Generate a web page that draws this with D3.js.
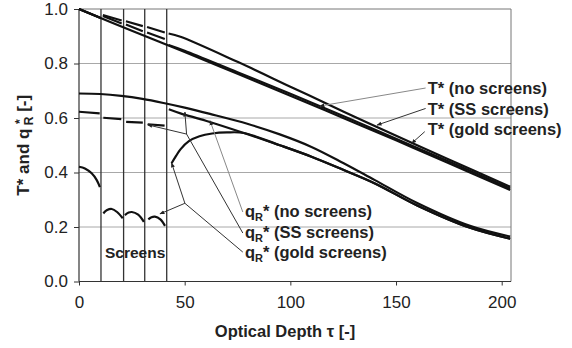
<!DOCTYPE html>
<html>
<head>
<meta charset="utf-8">
<script src="https://cdn.jsdelivr.net/npm/d3@7"></script>
<style>
    body { margin: 0; background: #fff; }
    svg { font-family: "Liberation Sans", Arial, sans-serif; }
</style>
</head>
<body>
<div id="chart"></div>
<script>
// values, [tau, value]; null marks a break in a curve
const screenPositions = [10.4, 21.1, 31.1, 41.5];
const xTickValues = [0, 50, 100, 150, 200];
const yTickValues = [0, 0.2, 0.4, 0.6, 0.8, 1.0];

const tNoScreens = [[0, 1.0], [25, 0.92], [50, 0.842], [75, 0.762], [100, 0.682], [125, 0.6], [150, 0.518], [175, 0.434], [204, 0.336]];
const tSSScreens = [[0, 1.0], [10, 0.968], null,
    [11.3, 0.974], [20.2, 0.947], null, [22.2, 0.943], [30.2, 0.918], null, [32.2, 0.914], [40.6, 0.89], null,
    [42.4, 0.868], [50, 0.847], [75, 0.768], [100, 0.689], [125, 0.607], [150, 0.524], [175, 0.44], [204, 0.341]];
const tGoldScreens = [[0, 1.0], [10, 0.968], null,
    [11.3, 0.978], [20.2, 0.958], null, [22.2, 0.955], [30.2, 0.937], null, [32.2, 0.934], [40.6, 0.914], null,
    [42.4, 0.91], [48, 0.898], [75, 0.806], [100, 0.715], [125, 0.624], [142, 0.563], [175, 0.448], [204, 0.348]];

const qNoScreens = [[0, 0.69], [10, 0.688], [20, 0.681], [30, 0.67], [40, 0.655], [50, 0.638], [62, 0.615], [80, 0.578],
    [95, 0.54], [110, 0.494], [125, 0.435], [140, 0.372], [160, 0.288], [185, 0.204], [204, 0.165]];
const qSSScreens = [[0, 0.623], [9.8, 0.617], null,
    [11.5, 0.601], [20, 0.596], null, [22.3, 0.586], [30.2, 0.583], null, [32.5, 0.577], [40.5, 0.572], null,
    [42.5, 0.632], [48, 0.617], [60, 0.59], [78, 0.545], [95, 0.5], [110, 0.458], [125, 0.41], [140, 0.36],
    [160, 0.279], [185, 0.197], [204, 0.157]];
const qGoldScreens = [[0, 0.421], [2.8, 0.415], [6, 0.397], [8.4, 0.372], [9.9, 0.346], null,
    [11.5, 0.25], [13.3, 0.262], [15.5, 0.266], [18, 0.255], [20.7, 0.232], null,
    [21.7, 0.244], [23.5, 0.253], [25, 0.255], [28, 0.245], [30.7, 0.219], null,
    [32.8, 0.228], [34.3, 0.236], [35.9, 0.238], [38.5, 0.228], [40.7, 0.204], null,
    [43.8, 0.434], [46, 0.462], [48, 0.485], [52, 0.515], [57, 0.533], [63, 0.543], [70, 0.547], [78, 0.545],
    [95, 0.5], [110, 0.458], [125, 0.41], [140, 0.36], [160, 0.279], [185, 0.197], [204, 0.157]];

const tLabels = ["T* (no screens)", "T* (SS screens)", "T* (gold screens)"];
const tLabelValues = [0.688, 0.611, 0.538];
const qLabels = [" (no screens)", " (SS screens)", " (gold screens)"];
const qLabelValues = [0.236, 0.158, 0.085];

// leader lines, label end first, arrow tip last
const pointers = [
    {pts: [[164, 0.71], [114, 0.644]], grey: true},
    {pts: [[164, 0.635], [141, 0.574]]},
    {pts: [[163.6, 0.55], [157.4, 0.507]]},
    {pts: [[77.5, 0.255], [62, 0.59]], grey: true},
    {pts: [[77.5, 0.178], [50.9, 0.541], [50.1, 0.622]]},
    {pts: [[50.9, 0.541], [32.5, 0.575]]},
    {pts: [[77.5, 0.108], [50.1, 0.287], [43.8, 0.435]]},
    {pts: [[50.1, 0.287], [38.3, 0.248]]}
];

const width = 572, height = 348;
const margin = {top: 9, right: 61, bottom: 66.5, left: 79};

const svg = d3.select("#chart").append("svg")
    .attr("width", width)
    .attr("height", height);

const xScale = d3.scaleLinear().domain([0, 204.4]).range([margin.left, width - margin.right]);
const yScale = d3.scaleLinear().domain([0, 1]).range([height - margin.bottom, margin.top]);

svg.append("defs").append("marker")
    .attr("id", "tip")
    .attr("viewBox", "0 0 10 10")
    .attr("refX", 9).attr("refY", 5)
    .attr("markerWidth", 5).attr("markerHeight", 5)
    .attr("markerUnits", "userSpaceOnUse")
    .attr("orient", "auto")
    .append("path")
    .attr("d", "M0,1L10,5L0,9z")
    .attr("fill", "#222");

// horizontal grid
svg.append("g")
    .selectAll("line")
    .data(yTickValues.filter(d => d > 0))
    .enter()
    .append("line")
    .attr("x1", margin.left).attr("x2", width - margin.right)
    .attr("y1", d => yScale(d)).attr("y2", d => yScale(d))
    .attr("stroke", d => d === 1 ? "#777" : "#a8a8a8")
    .attr("stroke-width", 1);

// right border
svg.append("line")
    .attr("x1", width - margin.right).attr("x2", width - margin.right)
    .attr("y1", margin.top).attr("y2", height - margin.bottom)
    .attr("stroke", "#777");

// screens
svg.append("g")
    .selectAll("line")
    .data(screenPositions)
    .enter()
    .append("line")
    .attr("x1", d => xScale(d)).attr("x2", d => xScale(d))
    .attr("y1", yScale(1)).attr("y2", yScale(0))
    .attr("stroke", "#333")
    .attr("stroke-width", 1.3);

const xAxis = d3.axisBottom(xScale).tickValues(xTickValues).tickSize(4).tickPadding(10).tickFormat(d3.format("d"));
const gXAxis = svg.append("g")
    .attr("transform", `translate(0,${yScale(0)})`)
    .call(xAxis);

const yAxis = d3.axisLeft(yScale).tickValues(yTickValues).tickSize(5).tickPadding(6).tickFormat(d3.format(".1f"));
const gYAxis = svg.append("g")
    .attr("transform", `translate(${margin.left},0)`)
    .call(yAxis);

[gXAxis, gYAxis].forEach(g => {
    g.selectAll(".domain").attr("stroke", "#333").attr("stroke-width", 1.2);
    g.selectAll(".tick line").attr("stroke", "#333");
    g.selectAll("text").attr("font-size", 17).attr("fill", "#222")
        .attr("font-family", "Liberation Sans, Arial, sans-serif");
});
gXAxis.select(".domain").attr("d", `M${margin.left},0H${width - margin.right}`);
gYAxis.select(".domain").attr("d", `M0,${yScale(0)}V${yScale(1)}`);

// curves
const line = d3.line()
    .defined(d => d !== null)
    .x(d => xScale(d[0]))
    .y(d => yScale(d[1]))
    .curve(d3.curveCatmullRom.alpha(0.5));

const curves = [qNoScreens, qSSScreens, qGoldScreens, tNoScreens, tSSScreens, tGoldScreens];
svg.append("g")
    .selectAll("path")
    .data(curves)
    .enter()
    .append("path")
    .attr("d", d => line(d))
    .attr("fill", "none")
    .attr("stroke", "#111")
    .attr("stroke-width", 2.2);

// leader lines
const leader = d3.line().x(d => xScale(d[0])).y(d => yScale(d[1]));
svg.append("g")
    .selectAll("path")
    .data(pointers)
    .enter()
    .append("path")
    .attr("d", d => leader(d.pts))
    .attr("fill", "none")
    .attr("stroke", d => d.grey ? "#888" : "#333")
    .attr("stroke-width", 1)
    .attr("marker-end", "url(#tip)");

// labels
svg.append("g")
    .selectAll("text")
    .data(tLabels)
    .enter()
    .append("text")
    .attr("x", xScale(165))
    .attr("y", (d, i) => yScale(tLabelValues[i]))
    .attr("font-size", 16.5)
    .attr("font-weight", "bold")
    .attr("fill", "#222")
    .text(d => d);

const qText = svg.append("g")
    .selectAll("text")
    .data(qLabels)
    .enter()
    .append("text")
    .attr("x", xScale(78.5))
    .attr("y", (d, i) => yScale(qLabelValues[i]))
    .attr("font-size", 16.5)
    .attr("font-weight", "bold")
    .attr("fill", "#222");
qText.append("tspan").text("q");
qText.append("tspan").attr("font-size", 11).attr("dy", 4).text("R");
qText.append("tspan").attr("dy", -4).text("*");
qText.append("tspan").text(d => d);

svg.append("text")
    .attr("x", xScale(12.3))
    .attr("y", yScale(0.086))
    .attr("font-size", 15.5)
    .attr("font-weight", "bold")
    .attr("fill", "#222")
    .text("Screens");

// axis titles
svg.append("text")
    .attr("x", (margin.left + width - margin.right) / 2 - 10)
    .attr("y", 337)
    .attr("text-anchor", "middle")
    .attr("font-size", 16.5)
    .attr("font-weight", "bold")
    .attr("fill", "#222")
    .text("Optical Depth \u03c4  [-]");

const yTitle = svg.append("text")
    .attr("transform", `translate(29,${yScale(0.5)}) rotate(-90)`)
    .attr("text-anchor", "middle")
    .attr("font-size", 17)
    .attr("font-weight", "bold")
    .attr("fill", "#222");
yTitle.append("tspan").text("T* and q ");
yTitle.append("tspan").attr("font-size", 12).attr("dy", -5).text("*");
yTitle.append("tspan").attr("font-size", 12).attr("dx", -6).attr("dy", 9).text("R");
yTitle.append("tspan").attr("dy", -4).text("  [-]");
</script>
</body>
</html>
